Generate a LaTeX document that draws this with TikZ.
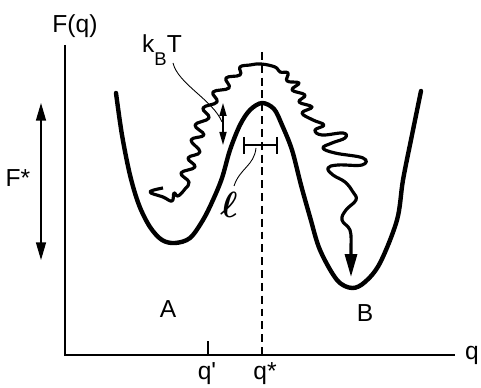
\documentclass[tikz,border=0pt]{standalone}
\usepackage{fontspec}
\setmainfont{Liberation Sans}
\usetikzlibrary{arrows.meta}
\begin{document}
\begin{tikzpicture}[x=0.02cm,y=-0.02cm,
  lbl/.style={inner sep=0pt, anchor=base, font=\fontsize{14}{16}\selectfont},
  curve/.style={line width=2.5pt, line join=round, line cap=round},
  wig/.style={line width=1.8pt, line join=round},
  axisline/.style={line width=1.1pt},
  leader/.style={line width=0.5pt},
  dashline/.style={line width=0.8pt, dash pattern=on 4.5pt off 2.8pt},
  bigtip/.style={{Triangle[length=10pt,width=5.7pt]}-{Triangle[length=10pt,width=5.7pt]}},
  smalltip/.style={{Triangle[length=7.4pt,width=4pt]}-{Triangle[length=7.4pt,width=4pt]}},
  endtip/.style={-{Triangle[length=13pt,width=6.8pt]}}]
\useasboundingbox (0,0) rectangle (481,388);

% axes
\coordinate (ytop) at (65,45);
\coordinate (orig) at (65,355);
\coordinate (xend) at (455,355);
\draw[axisline] (ytop) -- (orig) -- (xend);

% ticks
\coordinate (qpt) at (208,355);
\coordinate (qptTop) at (208,341);
\draw[axisline] (qpt) -- (qptTop);

% dashed line at q*
\coordinate (dtop) at (262,52);
\coordinate (dbot) at (262,355);
\draw[dashline] (dtop) -- (dbot);

% labels
\node[lbl] (Fq) at (75,33) {F(q)};
\node[lbl] (Fstar) at (18,187) {F*};
\node[lbl] (kBT) at (162,53) {k\raisebox{-7.2pt}{\fontsize{10.5}{10}\selectfont B}T};
\node[lbl] (A) at (168,318) {A};
\node[lbl] (B) at (365,322) {B};
\node[lbl] (qlab) at (472,360) {q};
\node[lbl] (qprime) at (207,380) {q\textquotesingle};
\node[lbl] (qstar) at (265,380) {q*};
\node[inner sep=0pt, font=\fontsize{20}{22}\selectfont\boldmath] (ell) at (229,205) {$\ell$};

% F* arrow
\coordinate (fa) at (41,103);
\coordinate (fb) at (41,260);
\draw[line width=0.7pt, bigtip] (fa) -- (fb);

% free energy curve
\draw[curve] plot[smooth, tension=0.55] coordinates {
 (116,93) (122,135) (130,175) (139,205) (150,227) (162,240) (175,243)
 (190,238) (203,220) (213,200) (222,178) (230,150) (240,125) (250,110)
 (262,103) (274,109) (282,125) (292,150) (301,185) (310,217) (320,250)
 (337,280) (352,288) (365,282) (380,263) (397,220) (403,180) (412,135) (421,91)};

% kBT double arrow
\coordinate (ka) at (223,103);
\coordinate (kb) at (223,145);
\draw[line width=0.9pt, smalltip] (ka) -- (kb);

% kBT leader
\coordinate (kl) at (173,63);
\coordinate (kr) at (222,122);
\draw[leader] (kl) .. controls (178,84) and (213,100) .. (kr);

% ell bar
\coordinate (ea) at (244,145);
\coordinate (eb) at (277,145);
\draw[line width=1.1pt] (ea) -- (eb);
\draw[line width=1.4pt] (244,137) -- (244,154);
\draw[line width=1.4pt] (277,137) -- (277,154);
\coordinate (el1) at (256,148);
\coordinate (el2) at (234,186);
\draw[leader] (el1) .. controls (254,166) and (240,168) .. (el2);

% wiggly trajectory
\coordinate (wend) at (351,277);
\draw[wig, endtip] plot[smooth, tension=0.7] coordinates {
 (163,188) (150,192) (163,197) (172,201) (174,193) (178,196) (185,189)
 (189,182) (181,173) (195,167) (188,158) (200,152) (191,140) (204,135)
 (195,125) (209,118) (203,108) (217,102) (213,92) (229,88) (226,78)
 (240,75) (240,67) (250,65) (261,64) (275,67) (280,72) (288,73) (287,81)
 (299,83) (292,90) (305,95) (299,102) (312,107) (302,113) (313,120)
 (324,125) (315,130) (322,135) (343,133) (345,138) (332,143) (323,148)
 (335,153) (363,158) (362,165) (338,165) (328,168) (333,175) (345,182)
 (353,192) (356,200) (346,210) (342,220) (350,230) (351,245)} -- (wend);
\end{tikzpicture}
\end{document}
